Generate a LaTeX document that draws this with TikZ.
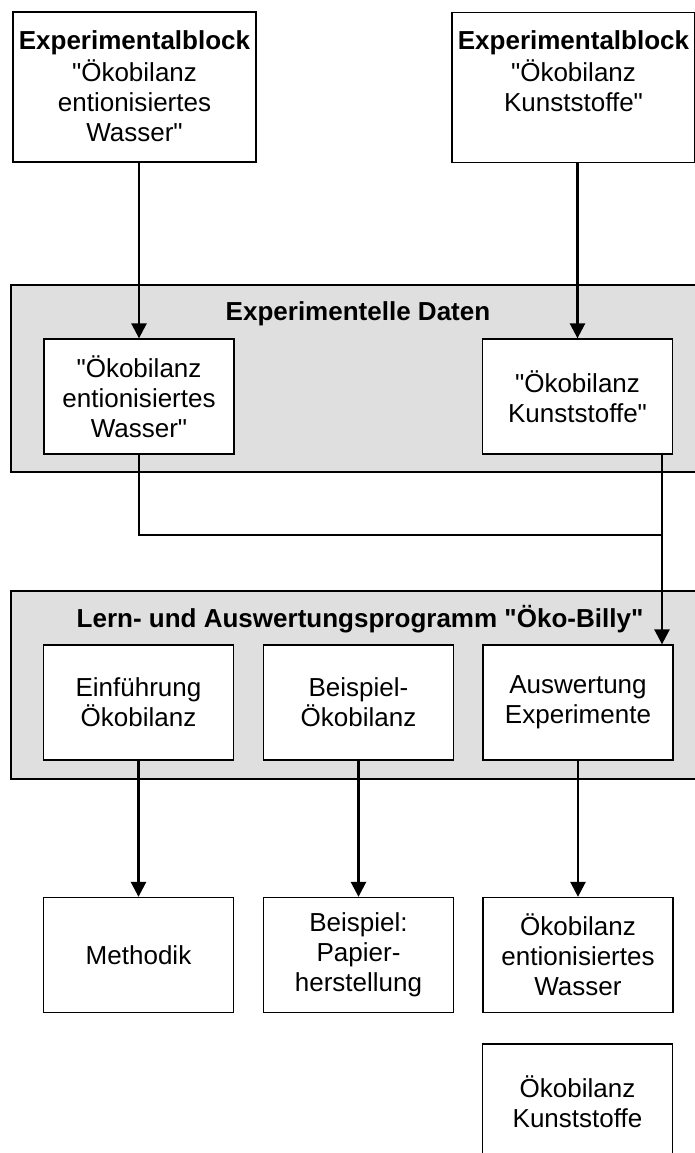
\documentclass[tikz,border=0pt]{standalone}
\usepackage{fontspec}
\setmainfont{Liberation Sans}
\usetikzlibrary{arrows.meta}

\begin{document}
\begin{tikzpicture}[x=0.025cm, y=-0.025cm,
		font=\fontsize{18.5}{21.3}\selectfont,
		text box/.style={draw, line width=0.9pt, fill=white, inner sep=0pt, minimum width=4.75cm, minimum height=2.875cm, align=center},
		block box/.style={draw, line width=0.9pt, fill=white, inner sep=0pt, minimum width=6.075cm, minimum height=3.75cm},
		grey panel/.style={draw, line width=0.9pt, fill=gray!25},
		flow line/.style={line width=1.8pt},
		flow arrow/.style={line width=1.8pt, -{Triangle[length=0.375cm, width=0.375cm]}}]
			\useasboundingbox (0,0) rectangle (695,1153);
			\draw[grey panel] (11,285) rectangle (705,472);
			\draw[grey panel] (11,591) rectangle (705,779);
			\node[anchor=base] (dataTitle) at (358,320) {\textbf{Experimentelle Daten}};
			\node[anchor=base] (progTitle) at (360,627) {\textbf{Lern- und Auswertungsprogramm \textquotedbl Öko-Billy\textquotedbl}};
			\node[block box] (blockL) at (134.5,87) {};
			\node[block box] (blockR) at (573.5,87.5) {};
			\node[anchor=north, align=center, inner sep=0pt] (blockLtext) at (134.5,30) {\textbf{Experimentalblock}\\[0.06cm]\textquotedbl Ökobilanz\\entionisiertes\\Wasser\textquotedbl};
			\node[anchor=north, align=center, inner sep=0pt] (blockRtext) at (573.5,30) {\textbf{Experimentalblock}\\[0.06cm]\textquotedbl Ökobilanz\\Kunststoffe\textquotedbl};
			\node[text box] (dataL) at (139,396.5) {\textquotedbl Ökobilanz\\entionisiertes\\Wasser\textquotedbl};
			\node[text box] (dataR) at (577.5,396.5) {\textquotedbl Ökobilanz\\Kunststoffe\textquotedbl};
			\foreach \name/\x/\txt in {intro/138.5/{Einführung\\Ökobilanz}, sample/358.5/{Beispiel-\\Ökobilanz}, evaluation/578/{Auswertung\\Experimente}}{
			  \node[text box] (\name) at (\x,702.5) {\txt};
			}
			\foreach \name/\x/\txt in {method/138.5/{Methodik}, paper/358.5/{Beispiel:\\Papier-\\herstellung}, waterResult/578/{Ökobilanz\\entionisiertes\\Wasser}}{
			  \node[text box] (\name) at (\x,955) {\txt};
			}
			\node[text box] (plasticResult) at (577.5,1101.5) {Ökobilanz\\Kunststoffe};
			\coordinate (merge) at (662,535);
			\draw[flow arrow] (blockL.south -| dataL) -- (dataL.north);
			\draw[flow arrow] (blockR.south -| dataR) -- (dataR.north);
			\draw[flow line] (dataL.south) |- (merge);
			\draw[flow arrow] (dataR.south -| merge) -- (evaluation.north -| merge);
			\foreach \a/\b in {intro/method, sample/paper, evaluation/waterResult}{
			  \draw[flow arrow] (\a) -- (\b);
			}
		\end{tikzpicture}
\end{document}
